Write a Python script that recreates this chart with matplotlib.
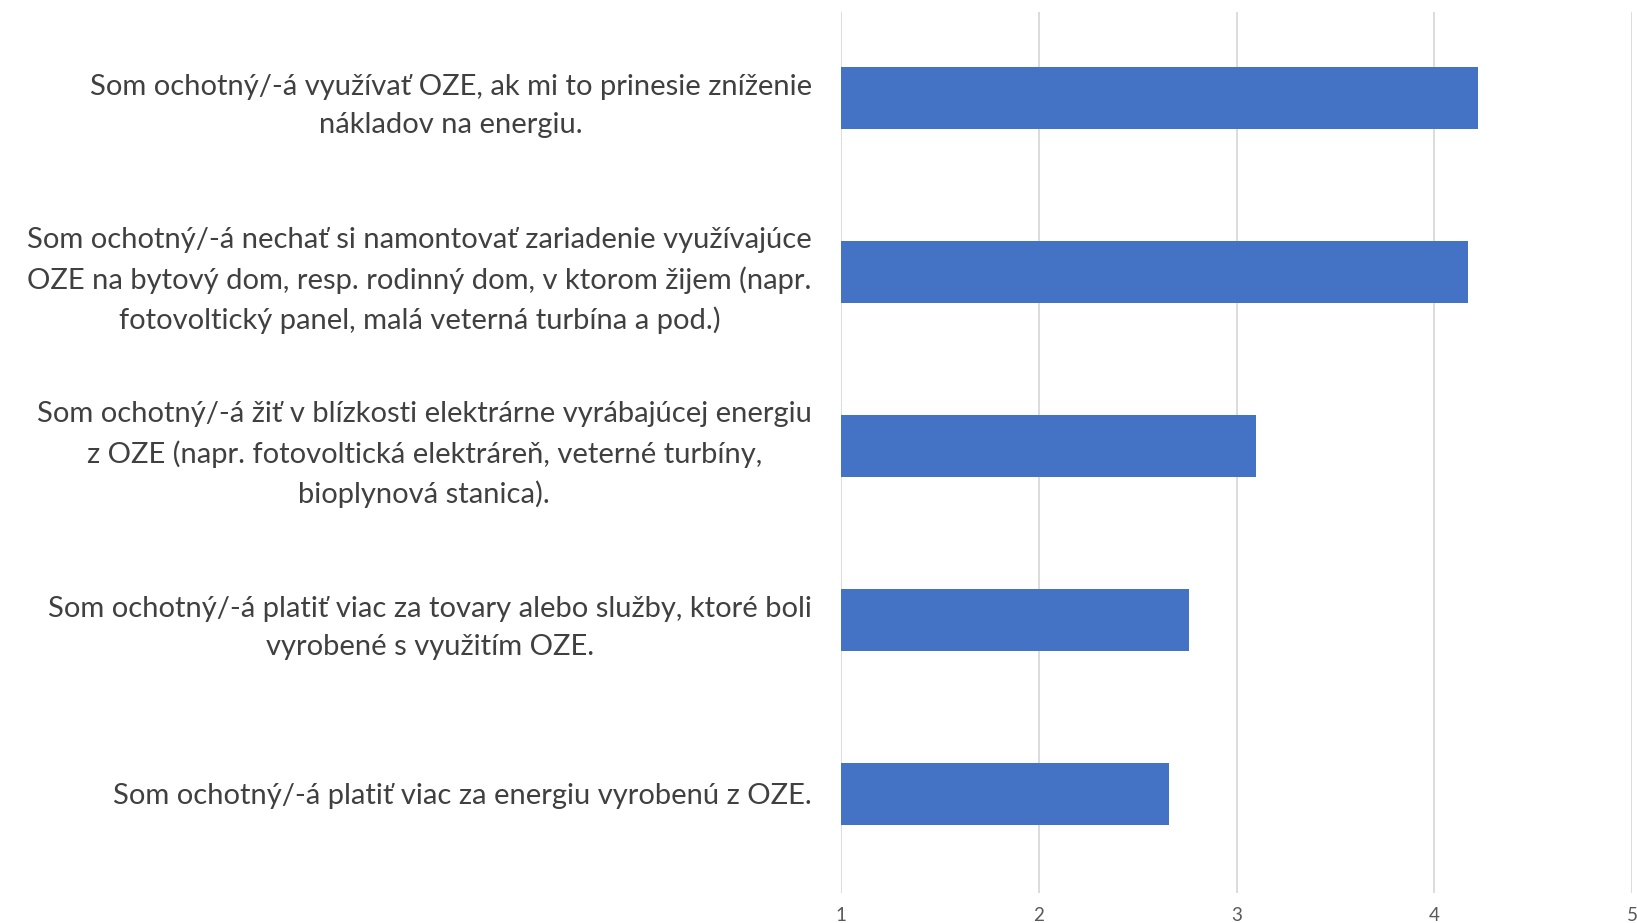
import matplotlib
matplotlib.use('Agg')
import matplotlib.pyplot as plt

# data
statements = [
    "Som ochotný/-á využívať OZE, ak mi to prinesie zníženie\nnákladov na energiu.",
    "Som ochotný/-á nechať si namontovať zariadenie využívajúce\nOZE na bytový dom, resp. rodinný dom, v ktorom žijem (napr.\nfotovoltický panel, malá veterná turbína a pod.)",
    "Som ochotný/-á žiť v blízkosti elektrárne vyrábajúcej energiu\nz OZE (napr. fotovoltická elektráreň, veterné turbíny,\nbioplynová stanica).",
    "Som ochotný/-á platiť viac za tovary alebo služby, ktoré boli\nvyrobené s využitím OZE.",
    "Som ochotný/-á platiť viac za energiu vyrobenú z OZE.",
]
scores = [4.22, 4.17, 3.10, 2.76, 2.66]
x_ticks = [1, 2, 3, 4, 5]

bar_color = '#4472C4'
grid_color = '#D9D9D9'
text_color = '#404040'

plt.rcParams['font.family'] = ['Lato', 'DejaVu Sans']

fig = plt.figure(figsize=(16.37, 9.23), dpi=100)
ax = fig.add_axes([0.5137, 0.0325, 0.4833, 0.954])

positions = list(range(len(statements)))
# bars start at 1 (axis minimum)
ax.barh(positions, [s - 1 for s in scores], left=1, height=0.355, color=bar_color, zorder=3)

ax.set_xlim(1, 5)
ax.set_ylim(4.57, -0.49)
ax.set_xticks(x_ticks)
ax.set_xticklabels([str(t) for t in x_ticks], fontsize=13.5, color='#595959')
ax.set_yticks(positions)
ax.set_yticklabels(statements, fontsize=21, color=text_color, linespacing=1.56)
for lbl in ax.get_yticklabels():
    lbl.set_multialignment('center')

ax.xaxis.grid(True, color=grid_color, linewidth=1.3, zorder=0)
ax.tick_params(axis='x', length=0, pad=10)
ax.tick_params(axis='y', length=0, pad=21)
for side in ['top', 'right', 'bottom', 'left']:
    ax.spines[side].set_visible(False)

fig.savefig('out.png', dpi=100)
